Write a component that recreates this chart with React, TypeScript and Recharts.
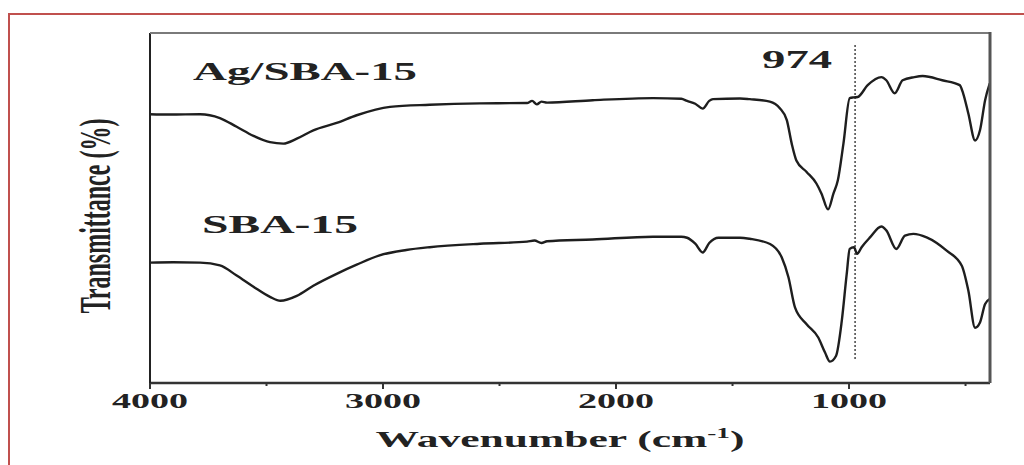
import React from "react";
import { Line, LineChart, ReferenceDot, ReferenceLine, XAxis, YAxis } from "recharts";

// FTIR spectra, wavenumber (cm-1) vs transmittance (offset, arbitrary %)
const agWavenumber = [
  4000, 3914, 3785, 3700, 3628, 3556, 3485, 3428, 3370, 3299, 3199, 3113, 2970, 2800, 2584, 2382,
  2360, 2340, 2320, 2296, 2100, 1841, 1720, 1695, 1660, 1628, 1600, 1584, 1468, 1426, 1340, 1297,
  1267, 1246, 1226, 1182, 1140, 1118, 1090, 1067, 1048, 1024, 997, 980, 963, 920, 861, 840, 804,
  770, 720, 684, 600, 525, 510, 488, 459, 438, 416, 396,
];
const agTransmittance = [
  76.8, 76.7, 76.8, 75.7, 73.2, 70.6, 68.8, 68.4, 69.8, 72.2, 74.3, 76.5, 78.9, 79.5, 79.9, 80.0,
  80.6, 79.6, 80.4, 80.1, 80.8, 81.4, 81.2, 80.6, 79.8, 78.4, 80.6, 81.1, 81.3, 81.1, 80.4, 78.5,
  75.1, 68.4, 63.6, 60.3, 57.0, 54.1, 49.6, 54.1, 57.9, 68.4, 81.4, 81.6, 81.7, 85.1, 87.4, 86.5,
  82.8, 86.5, 87.4, 87.7, 86.5, 85.1, 82.7, 77.0, 69.3, 72.2, 80.8, 85.6,
];

const sbaWavenumber = [
  4000, 3900, 3785, 3700, 3628, 3556, 3485, 3440, 3370, 3299, 3199, 3113, 3018, 2900, 2800, 2584,
  2382, 2350, 2320, 2296, 2100, 1841, 1720, 1695, 1660, 1628, 1600, 1560, 1468, 1426, 1339, 1289,
  1260, 1232, 1182, 1132, 1103, 1082, 1056, 1031, 1010, 997, 979, 965, 946, 910, 861, 840, 797,
  760, 724, 667, 581, 516, 488, 459, 438, 416, 396,
];
const sbaTransmittance = [
  34.4, 34.5, 34.4, 33.6, 30.7, 27.5, 24.6, 23.5, 24.9, 27.8, 31.2, 33.8, 36.4, 38.0, 38.8, 39.8,
  40.4, 40.7, 40.0, 40.5, 41.0, 41.8, 41.8, 41.5, 39.8, 37.3, 40.0, 41.5, 41.5, 41.2, 39.7, 35.9,
  30.2, 21.6, 16.8, 13.0, 8.7, 6.1, 7.7, 17.8, 31.1, 38.3, 38.8, 36.9, 38.8, 41.6, 44.7, 43.6,
  38.3, 42.1, 42.6, 41.6, 37.8, 33.5, 26.4, 15.8, 17.3, 22.6, 24.0,
];

const xDomain: [number, number] = [395, 4000];
const yDomain: [number, number] = [0, 100];
const xTicks = [4000, 3500, 3000, 2500, 2000, 1500, 1000, 500];
const markerWavenumber = 974;

const agData = agWavenumber.map((wn, i) => ({ wn, t: agTransmittance[i] }));
const sbaData = sbaWavenumber.map((wn, i) => ({ wn, t: sbaTransmittance[i] }));

const SERIF = "'Liberation Serif', 'Times New Roman', serif";
const INK = "#222";

// chart box
const WIDTH = 1024;
const HEIGHT = 465;
const MARGIN = { top: 33, right: 34, bottom: 0, left: 90 };
const Y_AXIS_W = 60;
const X_AXIS_H = 82;
const PLOT_LEFT = MARGIN.left + Y_AXIS_W;
const PLOT_RIGHT = WIDTH - MARGIN.right;
const PLOT_TOP = MARGIN.top;
const PLOT_BOTTOM = HEIGHT - X_AXIS_H;

const WavenumberTick = (props: any) => {
  const { x, y, payload } = props;
  const major = payload.value % 1000 === 0;
  return (
    <g>
      <line x1={x} x2={x} y1={y} y2={y + (major ? 6 : 3)} stroke="#333" strokeWidth={2} />
      {major && (
        <text
          x={x}
          y={y + 25}
          textAnchor="middle"
          fontFamily={SERIF}
          fontWeight="bold"
          fontSize={22}
          textLength={76}
          lengthAdjust="spacingAndGlyphs"
          fill={INK}
        >
          {payload.value}
        </text>
      )}
    </g>
  );
};

const xTitle = () => (
  <text
    x={560}
    y={447}
    textAnchor="middle"
    fontFamily={SERIF}
    fontWeight="bold"
    fontSize={24}
    textLength={369}
    lengthAdjust="spacingAndGlyphs"
    fill={INK}
  >
    Wavenumber (cm
    <tspan dy={-9} fontSize={15}>-1</tspan>
    <tspan dy={9} fontSize={24}>)</tspan>
  </text>
);

// y title, plus the grey top and right edges of the plot frame
const yTitle = () => (
  <g>
    <line x1={PLOT_LEFT} x2={PLOT_RIGHT} y1={PLOT_TOP} y2={PLOT_TOP} stroke="#7a7a7a" strokeWidth={2} />
    <line x1={PLOT_RIGHT} x2={PLOT_RIGHT} y1={PLOT_TOP - 1} y2={PLOT_BOTTOM} stroke="#555" strokeWidth={3} />
    <text
      transform="translate(95,216) scale(1.85,1) rotate(-90)"
      textAnchor="middle"
      dominantBaseline="central"
      fontFamily={SERIF}
      fontWeight="bold"
      fontSize={24}
      fill={INK}
    >
      Transmittance (%)
    </text>
  </g>
);

const annotation = (text: string, width: number) => (props: any) => {
  const { viewBox } = props;
  return (
    <text
      x={viewBox.x}
      y={viewBox.y}
      fontFamily={SERIF}
      fontWeight="bold"
      fontSize={26}
      textLength={width}
      lengthAdjust="spacingAndGlyphs"
      fill={INK}
    >
      {text}
    </text>
  );
};

export default function App() {
  return (
    <div
      style={{
        position: "fixed",
        top: 0,
        left: 0,
        width: WIDTH,
        height: HEIGHT,
        overflow: "hidden",
        background: "#fff",
      }}
    >
      <div
        style={{
          position: "absolute",
          left: 8,
          top: 13,
          width: 1040,
          height: 480,
          borderTop: "2px solid #c0504d",
          borderLeft: "2px solid #c0504d",
        }}
      />
      <div style={{ position: "absolute", left: 0, top: 0 }}>
        <LineChart width={WIDTH} height={HEIGHT} margin={MARGIN}>
          <XAxis
            dataKey="wn"
            type="number"
            domain={xDomain}
            reversed
            allowDataOverflow
            ticks={xTicks}
            interval={0}
            tickSize={0}
            tickMargin={0}
            tickLine={false}
            tick={<WavenumberTick />}
            height={X_AXIS_H}
            axisLine={{ stroke: "#333", strokeWidth: 2.5 }}
            label={xTitle}
          />
          <YAxis
            type="number"
            domain={yDomain}
            tick={false}
            tickLine={false}
            width={Y_AXIS_W}
            axisLine={{ stroke: "#222", strokeWidth: 2 }}
            label={yTitle}
          />
          <ReferenceLine
            segment={[
              { x: markerWavenumber, y: 96.6 },
              { x: markerWavenumber, y: 6.3 },
            ]}
            stroke="#444"
            strokeWidth={1.5}
            strokeDasharray="2 2"
          />
          <Line
            data={agData}
            dataKey="t"
            type="monotone"
            stroke="#1e1e1e"
            strokeWidth={2.4}
            dot={false}
            isAnimationActive={false}
          />
          <Line
            data={sbaData}
            dataKey="t"
            type="monotone"
            stroke="#1e1e1e"
            strokeWidth={2.4}
            dot={false}
            isAnimationActive={false}
          />
          <ReferenceDot x={3815} y={86.5} r={0} stroke="none" label={annotation("Ag/SBA-15", 224)} />
          <ReferenceDot x={3777} y={43.0} r={0} stroke="none" label={annotation("SBA-15", 156)} />
          <ReferenceDot x={1373} y={90.0} r={0} stroke="none" label={annotation(String(markerWavenumber), 70)} />
        </LineChart>
      </div>
    </div>
  );
}
